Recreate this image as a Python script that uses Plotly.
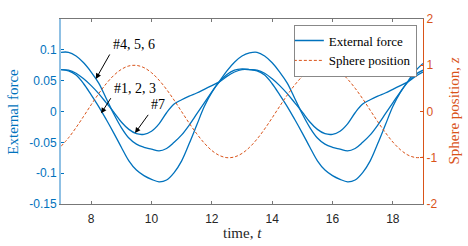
import plotly.graph_objects as go

t = [7.0, 7.25, 7.5, 7.75, 8.0, 8.25, 8.5, 8.75, 9.0, 9.25, 9.5, 9.75, 10.0, 10.25, 10.5, 10.75,
     11.0, 11.25, 11.5, 11.75, 12.0, 12.25, 12.5, 12.75, 13.0, 13.25, 13.5, 13.75, 14.0, 14.25,
     14.5, 14.75, 15.0, 15.25, 15.5, 15.75, 16.0, 16.25, 16.5, 16.75, 17.0, 17.25, 17.5, 17.75,
     18.0, 18.25, 18.5, 18.75, 19.0]

force_456 = [0.096, 0.096, 0.090, 0.079, 0.064, 0.046, 0.021, -0.004, -0.026, -0.043, -0.053, -0.058,
             -0.061, -0.064, -0.060, -0.050, -0.038, -0.022, -0.004, 0.014, 0.032, 0.049, 0.066, 0.080,
             0.090, 0.095,
             0.096, 0.090, 0.079, 0.064, 0.046, 0.021, -0.004, -0.026, -0.043, -0.053, -0.058, -0.061,
             -0.064, -0.060, -0.050, -0.038, -0.022, -0.004, 0.014, 0.032, 0.049, 0.066, 0.078]

force_123 = [0.068, 0.066, 0.059, 0.045, 0.027, 0.008, -0.013, -0.035, -0.058, -0.080, -0.095, -0.104,
             -0.110, -0.114, -0.111, -0.099, -0.080, -0.052, -0.022, 0.008, 0.031, 0.048, 0.060, 0.067,
             0.069, 0.068,
             0.066, 0.059, 0.045, 0.027, 0.008, -0.013, -0.035, -0.058, -0.080, -0.095, -0.104, -0.110,
             -0.114, -0.111, -0.099, -0.080, -0.052, -0.022, 0.008, 0.031, 0.048, 0.060, 0.067]

force_7 = [0.068, 0.067, 0.062, 0.053, 0.042, 0.029, 0.014, -0.001, -0.017, -0.029, -0.036, -0.037,
           -0.032, -0.020, -0.002, 0.012, 0.019, 0.025, 0.030, 0.036, 0.042, 0.048, 0.057, 0.064,
           0.068, 0.068,
           0.067, 0.062, 0.053, 0.042, 0.029, 0.014, -0.001, -0.017, -0.029, -0.036, -0.037, -0.032,
           -0.020, -0.002, 0.012, 0.019, 0.025, 0.030, 0.036, 0.042, 0.048, 0.057, 0.064]

sphere_z = [-0.754, -0.569, -0.347, -0.104, 0.146, 0.386, 0.602, 0.781, 0.911, 0.985, 0.997, 0.948,
            0.839, 0.678, 0.476, 0.245, -0.004, -0.253, -0.482, -0.683, -0.844, -0.950, -0.998, -0.983,
            -0.907, -0.775, -0.595, -0.378, -0.137, 0.113, 0.355, 0.575, 0.760, 0.896, 0.978, 1.000,
            0.958, 0.856, 0.701, 0.503, 0.275, 0.028, -0.221, -0.453, -0.660, -0.826, -0.941, -0.995,
            -0.989]

x_ticks = [8, 10, 12, 14, 16, 18]
y_ticks = [-0.15, -0.1, -0.05, 0, 0.05, 0.1]
y_tick_text = ["-0.15", "-0.1", "-0.05", "0", "0.05", "0.1"]
y2_ticks = [-2, -1, 0, 1, 2]
y2_tick_text = ["-2", "-1", "0", "1", "2"]

BLUE = "#0072BD"
ORANGE = "#D95319"
SERIF = "Liberation Serif"
SANS = "Liberation Sans"

fig = go.Figure()
for i, ys in enumerate([force_456, force_123, force_7]):
    fig.add_trace(go.Scatter(x=t, y=ys, mode="lines", line=dict(color=BLUE, width=1.3, shape="spline"),
                             name="External force", showlegend=(i == 0)))
fig.add_trace(go.Scatter(x=t, y=sphere_z, mode="lines", yaxis="y2",
                         line=dict(color=ORANGE, width=1, dash="3px,2px", shape="spline"),
                         name="Sphere position"))

fig.update_layout(
    width=468, height=246,
    margin=dict(l=61, r=45, t=19, b=42),
    paper_bgcolor="white", plot_bgcolor="white",
    showlegend=True,
    legend=dict(x=0.983, y=0.97, xanchor="right", yanchor="top",
                bgcolor="white", bordercolor="#888", borderwidth=1,
                font=dict(family=SERIF, size=13, color="black"),
                tracegroupgap=0, itemwidth=30, indentation=-6),
    xaxis=dict(range=[7, 19], tickvals=x_ticks, ticks="inside", ticklen=3, automargin=False,
               tickcolor="#777", linecolor="#777", linewidth=1, showline=True,
               mirror="ticks", showgrid=False, zeroline=False, ticklabelstandoff=4,
               tickfont=dict(family=SANS, size=12, color="#262626")),
    yaxis=dict(range=[-0.15, 0.15], tickvals=y_ticks, ticktext=y_tick_text, automargin=False,
               ticks="inside", ticklen=3, tickcolor=BLUE, linecolor="#8fc0e4", linewidth=2,
               showline=True, showgrid=False, zeroline=False,
               tickfont=dict(family=SANS, size=12, color=BLUE)),
    yaxis2=dict(range=[-2, 2], tickvals=y2_ticks, ticktext=y2_tick_text, overlaying="y",
                side="right", ticks="inside", ticklen=3, tickcolor=ORANGE, linecolor=ORANGE,
                linewidth=1, showline=True, showgrid=False, zeroline=False, automargin=False,
                tickfont=dict(family=SANS, size=12, color=ORANGE)),
)

annotations = [
    dict(xref="paper", yref="paper", x=-0.135, y=0.5, xanchor="center", yanchor="middle",
         text="External force", textangle=-90,
         showarrow=False, font=dict(family=SERIF, size=15, color=BLUE)),
    dict(xref="paper", yref="paper", x=1.083, y=0.5, xanchor="center", yanchor="middle",
         text="Sphere position, <i>z</i>", textangle=-90,
         showarrow=False, font=dict(family=SERIF, size=15, color=ORANGE)),
    dict(xref="paper", yref="paper", x=0.5, y=-0.157, xanchor="center", yanchor="middle",
         text="time, <i>t</i>",
         showarrow=False, font=dict(family=SERIF, size=15, color="#262626")),
    dict(x=9.42, y=0.108, text="#4, 5, 6", showarrow=False, font=dict(family=SERIF, size=14, color="black")),
    dict(x=9.45, y=0.038, text="#1, 2, 3", showarrow=False, font=dict(family=SERIF, size=14, color="black")),
    dict(x=10.22, y=0.012, text="#7", showarrow=False, font=dict(family=SERIF, size=14, color="black")),
]
for (tx, ty, hx, hy) in [(8.643, 0.0949, 8.154, 0.0527), (8.683, 0.024, 8.329, -0.003),
                         (9.926, -0.003, 9.453, -0.035)]:
    annotations.append(dict(x=hx, y=hy, ax=tx, ay=ty, xref="x", yref="y", axref="x", ayref="y",
                            text="", showarrow=True, arrowhead=2, arrowsize=1.1, arrowwidth=1,
                            arrowcolor="black", standoff=0, startstandoff=0))
fig.update_layout(annotations=annotations)

fig.write_html("out.html", config={"displayModeBar": False},
               post_script="document.body.style.margin='0px';document.body.style.overflow='hidden';")
